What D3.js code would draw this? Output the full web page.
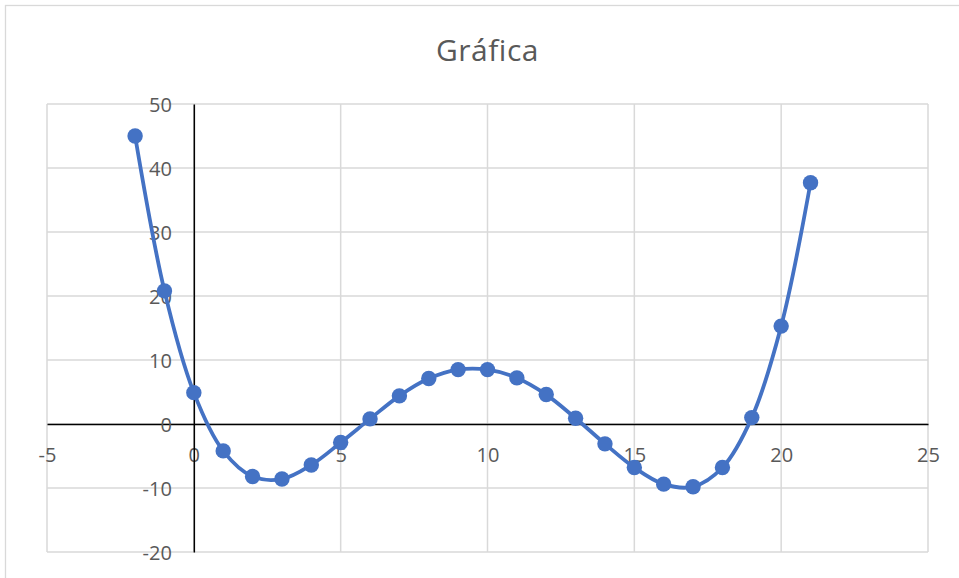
<!DOCTYPE html>
<html>
<head>
<meta charset="utf-8">
<script src="https://cdn.jsdelivr.net/npm/d3@7"></script>
<style>
  html, body { margin: 0; padding: 0; background: #fff; }
  svg { display: block; }
  text { font-family: "Open Sans", "Liberation Sans", sans-serif; }
</style>
</head>
<body>
<svg id="chart" width="959" height="578"></svg>
<script>
// Series: x values and the y values plotted against them
const xValues = [-2, -1, 0, 1, 2, 3, 4, 5, 6, 7, 8, 9, 10, 11, 12, 13, 14, 15, 16, 17, 18, 19, 20, 21];
const yValues = [45, 20.8, 4.9, -4.2, -8.2, -8.6, -6.4, -2.9, 0.8, 4.4, 7.1, 8.5, 8.5, 7.2, 4.6, 0.9, -3.1, -6.8, -9.4, -9.8, -6.8, 1.0, 15.3, 37.7];

// Axis ticks
const xTicks = [-5, 0, 5, 10, 15, 20, 25];
const yTicks = [-20, -10, 0, 10, 20, 30, 40, 50];

const title = "Gráfica";

const svg = d3.select("#chart");
const W = 959, H = 578;

// Chart border
svg.append("rect")
  .attr("x", 5.5).attr("y", 5.5)
  .attr("width", W).attr("height", H)
  .attr("fill", "#fff")
  .attr("stroke", "#d9d9d9")
  .attr("stroke-width", 1.3);

const plot = { left: 47, right: 928, top: 104, bottom: 552 };

const x = d3.scaleLinear().domain([-5, 25]).range([plot.left, plot.right]);
const y = d3.scaleLinear().domain([-20, 50]).range([plot.bottom, plot.top]);

// Gridlines
const grid = svg.append("g").attr("stroke", "#d9d9d9").attr("stroke-width", 1.5);
grid.selectAll("line.v").data(xTicks).join("line")
  .attr("x1", d => x(d)).attr("x2", d => x(d))
  .attr("y1", plot.top).attr("y2", plot.bottom);
grid.selectAll("line.h").data(yTicks).join("line")
  .attr("x1", plot.left).attr("x2", plot.right)
  .attr("y1", d => y(d)).attr("y2", d => y(d));

// Axes crossing at the origin; plain hyphen for negatives
const fmt = d => String(d);
const xAxis = d3.axisBottom(x).tickValues(xTicks).tickSize(0).tickPadding(24).tickFormat(fmt);
const yAxis = d3.axisLeft(y).tickValues(yTicks).tickSize(0).tickPadding(22).tickFormat(fmt);

const gx = svg.append("g").attr("transform", `translate(0,${y(0)})`).call(xAxis);
const gy = svg.append("g").attr("transform", `translate(${x(0)},0)`).call(yAxis);

[gx, gy].forEach(g => {
  g.select(".domain").attr("stroke", "#000").attr("stroke-width", 1.5);
  g.selectAll("text")
    .attr("fill", "#595959")
    .attr("font-size", 20)
    .attr("font-family", "'Open Sans', sans-serif");
});
gy.selectAll("text").attr("dy", "0.35em");

// Smoothed line through the points
const pts = xValues.map((v, i) => [v, yValues[i]]);
const line = d3.line()
  .x(d => x(d[0]))
  .y(d => y(d[1]))
  .curve(d3.curveCatmullRom.alpha(0.5));

svg.append("path")
  .datum(pts)
  .attr("fill", "none")
  .attr("stroke", "#4472c4")
  .attr("stroke-width", 3.8)
  .attr("stroke-linejoin", "round")
  .attr("stroke-linecap", "round")
  .attr("d", line);

// Markers
svg.append("g").selectAll("circle").data(pts).join("circle")
  .attr("cx", d => x(d[0]))
  .attr("cy", d => y(d[1]))
  .attr("r", 7.7)
  .attr("fill", "#4472c4");

// Title
svg.append("text")
  .attr("x", 487.5).attr("y", 61)
  .attr("text-anchor", "middle")
  .attr("fill", "#595959")
  .attr("font-size", 30)
  .attr("letter-spacing", 0.5)
  .text(title);
</script>
</body>
</html>
